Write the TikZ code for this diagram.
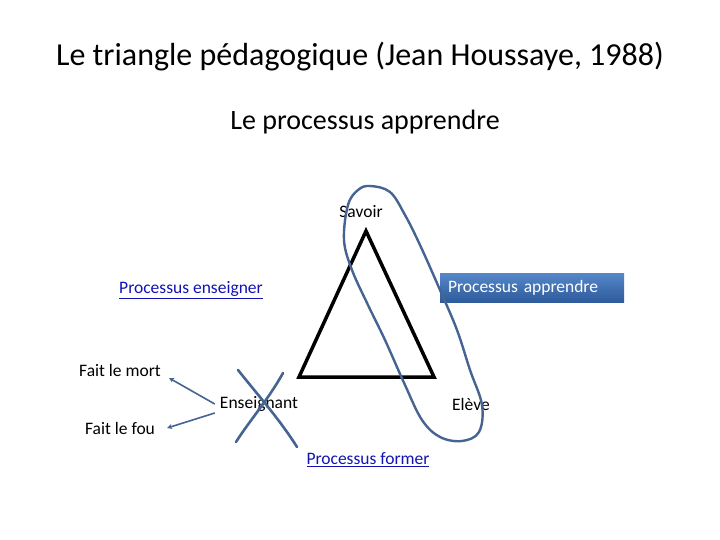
\documentclass[tikz,border=0pt]{standalone}
\usepackage{fontspec}
\setmainfont{Carlito}
\usetikzlibrary{arrows.meta}
\definecolor{lien}{RGB}{20,20,180}
\definecolor{trait}{RGB}{70,100,145}
\definecolor{boitehaut}{RGB}{85,135,200}
\definecolor{boitebas}{RGB}{45,90,155}
\newcommand{\lien}[1]{\textcolor{lien}{\underline{#1}}}

\begin{document}
\begin{tikzpicture}[x=1pt,y=-1pt,
    etiq/.style={inner sep=1pt,font=\fontsize{17.5}{20}\selectfont},
    main/.style={draw=trait,line width=2.6pt,line cap=round,line join=round},
    fleche/.style={draw=trait,line width=1.6pt,-{Stealth[length=5pt,width=5pt]}}]
  \useasboundingbox[fill=white] (0,0) rectangle (720,540);
  % titres
  \node (titre) at (360,57) {\fontsize{32}{36}\selectfont Le triangle pédagogique (Jean Houssaye, 1988)};
  \node (soustitre) at (365,122) {\fontsize{28}{32}\selectfont Le processus apprendre};
  % triangle
  \coordinate (sommet) at (366,231);
  \coordinate (gauche) at (299,377);
  \coordinate (droite) at (434,377);
  \draw[line width=3.5pt,line join=miter] (sommet) -- (gauche) -- (droite) -- cycle;
  % sommets et processus
  \node[etiq] (savoir) at (361,212) {Savoir};
  \node[etiq] (ens) at (259,404) {Enseignant};
  \node[etiq] (eleve) at (471,404) {Elève};
  \node[etiq] (penseigner) at (191,290) {\lien{Processus enseigner}};
  \node[etiq] (pformer) at (368,460) {\lien{Processus former}};
  \node[etiq,text=white,minimum width=184pt,minimum height=29pt,text width=168pt,align=left,
        top color=boitehaut,bottom color=boitebas] (papprendre) at (532,288) {Processus apprendre};
  \node[etiq] (mort) at (120,370) {Fait le mort};
  \node[etiq] (fou) at (120,428) {Fait le fou};
  % fleches
  \draw[fleche] ([xshift=-4pt]ens.west) -- ([xshift=7pt,yshift=-8pt]mort.east);
  \draw[fleche] ([xshift=-4pt,yshift=-9pt]ens.west) -- ([xshift=11pt]fou.east);
  % croix
  \draw[main] (238,370) .. controls (262,400) and (280,420) .. (297,447);
  \draw[main] (283,373) .. controls (268,400) and (250,420) .. (236,442);
  % boucle
  \draw[main,line width=2.4pt] plot[smooth cycle,tension=0.6] coordinates {
    (370,186) (390,192) (405,215) (420,245) (440,290) (457,330) (470,370)
    (482,405) (479,432) (462,441) (440,437) (422,420) (405,385) (385,340)
    (368,305) (352,270) (344,240) (348,205) (358,190)};
\end{tikzpicture}
\end{document}
